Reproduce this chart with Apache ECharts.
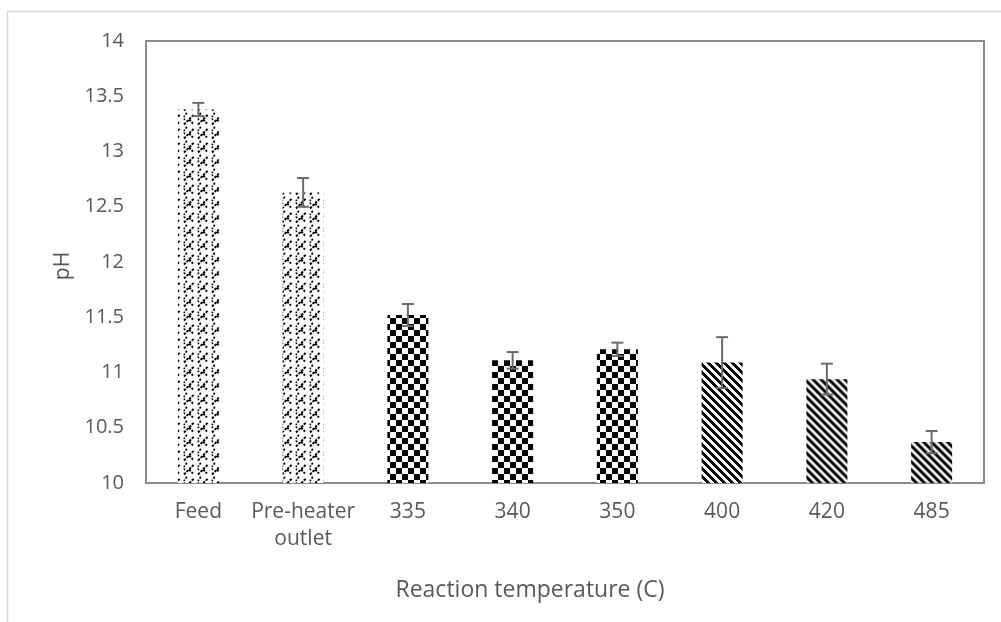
<!DOCTYPE html>
<html>
<head>
<meta charset="utf-8">
<script src="https://cdn.jsdelivr.net/npm/echarts@6/dist/echarts.min.js"></script>
<style>
  html, body { margin: 0; padding: 0; background: #fff; }
  #chart { width: 1001px; height: 622px; }
</style>
</head>
<body>
<div id="chart"></div>
<script>
// pH of the stream at each sampling point / reaction temperature
const categories = ['Feed', 'Pre-heater\noutlet', '335', '340', '350', '400', '420', '485'];
const phValues   = [13.38, 12.63, 11.52, 11.11, 11.21, 11.09, 10.94, 10.37];
const phErrors   = [0.06, 0.13, 0.10, 0.075, 0.06, 0.23, 0.14, 0.10];
const yTicks     = { min: 10, max: 14, step: 0.5 };

const TEXT = '#595959';
const FONT = 'Open Sans';

// ---- fill patterns -------------------------------------------------------
function tile(w, h, draw) {
  const c = document.createElement('canvas');
  c.width = w; c.height = h;
  const ctx = c.getContext('2d');
  ctx.fillStyle = '#fff';
  ctx.fillRect(0, 0, w, h);
  draw(ctx, w, h);
  return { image: c, repeat: 'repeat' };
}

// dotted weave motif
const weave = tile(14, 14, (ctx) => {
  ctx.strokeStyle = '#000';
  ctx.lineWidth = 2;
  ctx.setLineDash([2.5, 1.2]);
  ctx.beginPath();
  ctx.moveTo(2, 12.5); ctx.lineTo(12, 2.5);   // long "/" stroke
  ctx.moveTo(7, 7.5); ctx.lineTo(11, 11.5);   // short "\" branch
  ctx.stroke();
  ctx.lineWidth = 1.6;
  ctx.setLineDash([1.8, 1.4]);
  ctx.beginPath();
  ctx.moveTo(5, 1); ctx.quadraticCurveTo(0.5, 4.5, 3, 8.5); // curved "(" stroke
  ctx.stroke();
});

// large checkerboard
const checker = tile(12, 12, (ctx) => {
  ctx.fillStyle = '#000';
  ctx.fillRect(0, 0, 6, 6);
  ctx.fillRect(6, 6, 6, 6);
});

// crisp wide downward diagonal
const stripes = tile(8, 8, (ctx, w, h) => {
  ctx.fillStyle = '#000';
  for (let y = 0; y < h; y++) {
    for (let x = 0; x < w; x++) {
      if (((x - y) % 8 + 8) % 8 < 4) ctx.fillRect(x, y, 1, 1);
    }
  }
});

// soft dark downward diagonal
const diag = tile(8, 8, (ctx, w, h) => {
  for (let y = 0; y < h; y++) {
    for (let x = 0; x < w; x++) {
      const t = ((x - y) % 8 + 8) % 8;
      const v = 0.5 + 0.5 * Math.cos(2 * Math.PI * (t - 1.5) / 8);
      const g = Math.round(255 * (1 - Math.min(1, v * 1.1)));
      ctx.fillStyle = `rgb(${g},${g},${g})`;
      ctx.fillRect(x, y, 1, 1);
    }
  }
});

const barFills = [weave, weave, checker, checker, checker, stripes, diag, diag];

// ---- chart ---------------------------------------------------------------
const chart = echarts.init(document.getElementById('chart'), null, { renderer: 'canvas' });

const option = {
  backgroundColor: '#fff',
  animation: false,
  textStyle: { fontFamily: FONT, color: TEXT },
  grid: {
    left: 146, right: 17, top: 41, bottom: 139,
    show: true, borderColor: '#8a8a8a', borderWidth: 2, backgroundColor: 'transparent'
  },
  graphic: [
    {
      type: 'rect', silent: true, z: -1,
      shape: { x: 7.5, y: 11.5, width: 1100, height: 700 },
      style: { fill: 'none', stroke: '#d9d9d9', lineWidth: 1.5 }
    },
    {
      type: 'text', x: 530, y: 590,
      style: { text: 'Reaction temperature (C)', font: `23px "${FONT}"`, fill: TEXT, align: 'center', verticalAlign: 'middle' }
    },
    {
      type: 'text', x: 63, y: 266, rotation: Math.PI / 2,
      style: { text: 'pH', font: `21px "${FONT}"`, fill: TEXT, align: 'center', verticalAlign: 'middle' }
    }
  ],
  xAxis: {
    type: 'category',
    data: categories,
    axisLine: { show: false },
    axisTick: { show: false },
    axisLabel: { color: TEXT, fontFamily: FONT, fontSize: 21, margin: 16, lineHeight: 27, interval: 0 }
  },
  yAxis: {
    type: 'value',
    min: yTicks.min, max: yTicks.max, interval: yTicks.step,
    axisLine: { show: false },
    axisTick: { show: false },
    splitLine: { show: false },
    axisLabel: { color: TEXT, fontFamily: FONT, fontSize: 20, margin: 22 }
  },
  series: [
    {
      type: 'bar',
      barWidth: 41,
      data: phValues.map((v, i) => ({ value: v, itemStyle: { color: barFills[i] } })),
      z: 2
    },
    {
      type: 'custom',
      z: 3,
      data: phValues.map((v, i) => [i, v, phErrors[i]]),
      renderItem: (params, api) => {
        const i = api.value(0), v = api.value(1), e = api.value(2);
        const top = api.coord([i, v + e]);
        const bot = api.coord([i, v - e]);
        const half = 6;
        const style = { stroke: '#6b6b6b', lineWidth: 2 };
        return {
          type: 'group',
          children: [
            { type: 'line', shape: { x1: top[0], y1: top[1], x2: bot[0], y2: bot[1] }, style },
            { type: 'line', shape: { x1: top[0] - half, y1: top[1], x2: top[0] + half, y2: top[1] }, style },
            { type: 'line', shape: { x1: bot[0] - half, y1: bot[1], x2: bot[0] + half, y2: bot[1] }, style }
          ]
        };
      }
    }
  ]
};

chart.setOption(option);
</script>
</body>
</html>
